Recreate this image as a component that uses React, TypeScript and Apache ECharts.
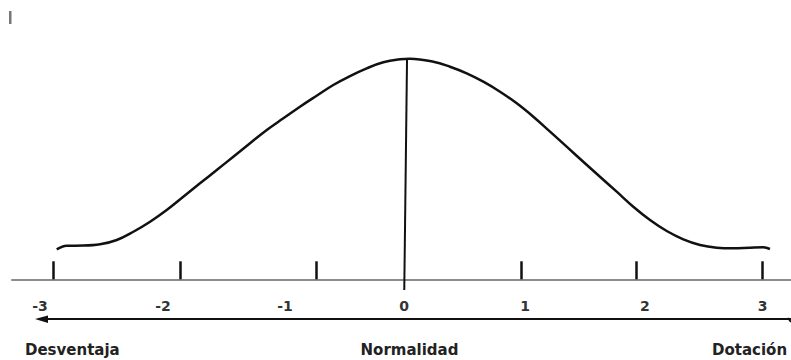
import React, { useEffect, useRef } from "react";
import * as echarts from "echarts";

// Curve (z-score, relative height)
const curveZ = [-2.882, -2.799, -2.661, -2.522, -2.383, -2.245, -2.106, -1.968, -1.83, -1.691, -1.552, -1.414, -1.275, -1.136, -0.998, -0.86, -0.721, -0.583, -0.444, -0.305, -0.167, -0.028, 0.055, 0.249, 0.387, 0.526, 0.664, 0.803, 0.942, 1.08, 1.219, 1.357, 1.495, 1.634, 1.773, 1.911, 2.05, 2.189, 2.327, 2.466, 2.604, 2.742, 2.881, 2.992, 3.047];
const curveH = [0.0545, 0.0611, 0.0613, 0.0636, 0.0715, 0.0865, 0.1047, 0.126, 0.1502, 0.1745, 0.1987, 0.2229, 0.2473, 0.2715, 0.2927, 0.3138, 0.3338, 0.3533, 0.3696, 0.3836, 0.3945, 0.4, 0.401, 0.3956, 0.3865, 0.3745, 0.3593, 0.3411, 0.32, 0.2956, 0.2684, 0.2411, 0.2138, 0.1865, 0.1593, 0.132, 0.1078, 0.0878, 0.0727, 0.0624, 0.0575, 0.0564, 0.0575, 0.0582, 0.0551];

// Axis ticks and labels
const tickPositions = [-2.909, -1.857, -0.727, 0.978, 1.933, 2.981];
const labelPositions = [-3.021, -1.998, -0.984, 0.005, 1.011, 2.008, 2.987];
const tickLabels = ["-3", "-2", "-1", "0", "1", "2", "3"];

// Central vertical line (mean)
const centerLineZ = [0.03, 0.007];
const centerLineH = [0.401, -0.0195];

const categoryLabels = ["Desventaja", "Normalidad", "Dotación"];

export default function App() {
  const ref = useRef<HTMLDivElement>(null);
  useEffect(() => {
    if (!ref.current) return;
    const chart = echarts.init(ref.current, null, { renderer: "svg" });
    const labelFont = { fontFamily: "DejaVu Sans", fontWeight: "bold", fontSize: 15 };
    chart.setOption({
      animation: false,
      backgroundColor: "#ffffff",
      grid: { left: 12, right: 0, top: 0, bottom: 60 },
      xAxis: {
        type: "value",
        min: -3.254,
        max: 3.222,
        axisLine: { onZero: true, lineStyle: { color: "#8c8c8c", width: 2 } },
        axisTick: {
          show: true,
          customValues: tickPositions,
          inside: true,
          length: 18,
          lineStyle: { color: "#111", width: 2.5 },
        },
        axisLabel: {
          customValues: labelPositions,
          margin: -1.5,
          color: "#333",
          fontFamily: "DejaVu Sans",
          fontWeight: "bold",
          fontSize: 14,
          formatter: (v: number) => {
            let best = 0;
            labelPositions.forEach((p, i) => {
              if (Math.abs(p - v) < Math.abs(labelPositions[best] - v)) best = i;
            });
            return tickLabels[best];
          },
        },
        splitLine: { show: false },
      },
      yAxis: {
        type: "value",
        min: -0.03764,
        max: 0.5078,
        show: false,
        splitLine: { show: false },
      },
      series: [
        {
          type: "line",
          data: curveZ.map((z, i) => [z, curveH[i]]),
          smooth: 0.4,
          showSymbol: false,
          clip: false,
          lineStyle: { color: "#111", width: 2.5 },
        },
        {
          type: "line",
          data: centerLineZ.map((z, i) => [z, centerLineH[i]]),
          showSymbol: false,
          clip: false,
          lineStyle: { color: "#111", width: 2 },
        },
      ],
      graphic: [
        { type: "rect", shape: { x: 9, y: 11, width: 2.5, height: 13 }, style: { fill: "#777" } },
        { type: "line", shape: { x1: 44, y1: 319, x2: 791, y2: 319 }, style: { stroke: "#111", lineWidth: 2 } },
        { type: "polygon", shape: { points: [[35, 319], [48, 315.5], [48, 323]] }, style: { fill: "#111" } },
        { type: "line", shape: { x1: 788, y1: 318, x2: 791, y2: 322 }, style: { stroke: "#111", lineWidth: 2 } },
        {
          type: "text",
          x: 25,
          y: 350,
          style: { text: categoryLabels[0], ...labelFont, fill: "#222", align: "left", verticalAlign: "middle" },
        },
        {
          type: "text",
          x: 409.5,
          y: 350,
          style: { text: categoryLabels[1], ...labelFont, fill: "#222", align: "center", verticalAlign: "middle" },
        },
        {
          type: "text",
          x: 712,
          y: 350,
          style: { text: categoryLabels[2], ...labelFont, fill: "#222", align: "left", verticalAlign: "middle" },
        },
      ],
    });
    return () => chart.dispose();
  }, []);
  return (
    <div
      ref={ref}
      style={{ position: "absolute", left: 0, top: 0, width: 791, height: 360 }}
    />
  );
}
